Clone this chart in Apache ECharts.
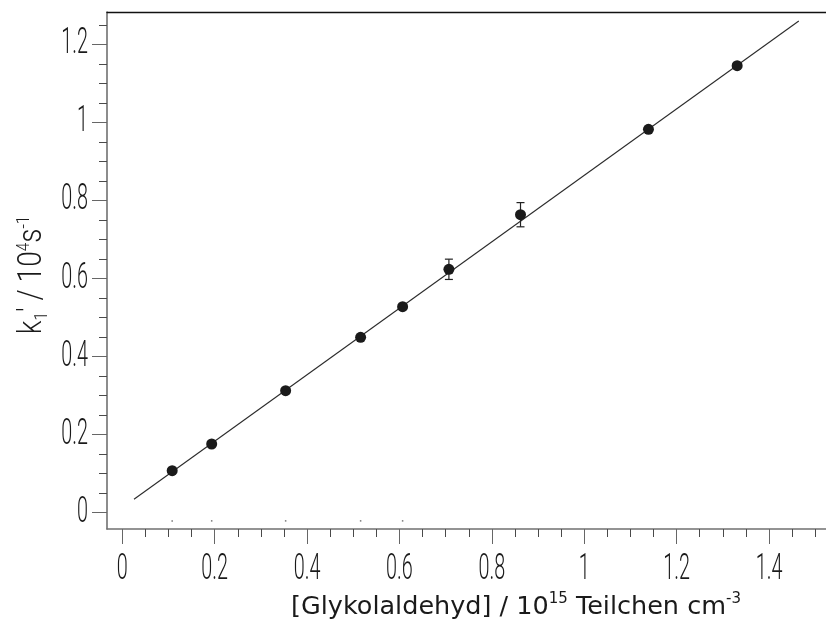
<!DOCTYPE html>
<html>
<head>
<meta charset="utf-8">
<script src="https://cdn.jsdelivr.net/npm/echarts@6/dist/echarts.min.js"></script>
<style>
  html, body { margin: 0; padding: 0; background: #fff; }
  #chart { width: 826px; height: 635px; }
</style>
</head>
<body>
<div id="chart"></div>
<script>
// [Glykolaldehyd] in 10^15 Teilchen cm^-3
const concentration = [0.108, 0.1935, 0.3536, 0.5159, 0.6068, 0.707, 0.862, 1.139, 1.331];
// k1' in 10^4 s^-1
const rateK1 = [0.1076, 0.176, 0.3126, 0.4494, 0.5278, 0.6236, 0.7635, 0.9823, 1.1453];
// one-sigma uncertainty of k1' (0 = no bar)
const rateError = [0, 0, 0, 0, 0, 0.026, 0.031, 0, 0];
// straight-line fit, end points
const fitX = [0.0253, 1.4644];
const fitY = [0.0343, 1.2598];
// tiny marks just below the zero line
const stubX = [0.108, 0.1935, 0.3536, 0.5159, 0.6068];
const stubY = [-0.021, -0.021, -0.021, -0.021, -0.021];

// axis extents and tick labels
const xRange = [-0.0331, 1.5233];
const yRange = [-0.0418, 1.2829];
const xTickValues = [0, 0.2, 0.4, 0.6, 0.8, 1, 1.2, 1.4];
const xTickLabels = ['0', '0.2', '0.4', '0.6', '0.8', '1', '1.2', '1.4'];
const yTickValues = [0, 0.2, 0.4, 0.6, 0.8, 1, 1.2];
const yTickLabels = ['0', '0.2', '0.4', '0.6', '0.8', '1', '1.2'];
const minorStep = 0.05;

function minorValues(lo, hi) {
  const out = [];
  for (let i = Math.ceil(lo / minorStep); i * minorStep <= hi; i++) {
    out.push(Math.round(i * minorStep * 1000) / 1000);
  }
  return out;
}
const xMinor = minorValues(xRange[0], xRange[1]);
const yMinor = minorValues(yRange[0], yRange[1]);

const AXIS_GREY = '#707070';
const INK = '#1a1a1a';
const TICK_FONT = '300 36px Roboto, "Liberation Sans", sans-serif';

const chart = echarts.init(document.getElementById('chart'), null, { renderer: 'canvas' });

function baseX(extra) {
  return Object.assign({
    type: 'value', gridIndex: 0, min: xRange[0], max: xRange[1],
    splitLine: { show: false }, axisLabel: { show: false }
  }, extra);
}
function baseY(extra) {
  return Object.assign({
    type: 'value', gridIndex: 0, min: yRange[0], max: yRange[1],
    splitLine: { show: false }, axisLabel: { show: false }
  }, extra);
}

const points = concentration.map((x, i) => [x, rateK1[i]]);
const errBars = concentration
  .map((x, i) => [x, rateK1[i], rateError[i]])
  .filter(d => d[2] > 0);

const option = {
  animation: false,
  backgroundColor: '#fff',
  grid: { left: 107, right: 0, top: 12, bottom: 106, containLabel: false },
  xAxis: [
    baseX({
      position: 'bottom',
      axisLine: { show: true, onZero: false, lineStyle: { color: AXIS_GREY, width: 1.6 } },
      axisTick: { show: true, inside: false, length: 8, customValues: xMinor,
                  lineStyle: { color: '#4a4a4a', width: 1 } }
    }),
    baseX({
      position: 'bottom',
      axisLine: { show: false, onZero: false },
      axisTick: { show: true, inside: false, length: 15, customValues: xTickValues,
                  lineStyle: { color: '#666', width: 1 } }
    }),
    baseX({
      position: 'top',
      axisLine: { show: true, onZero: false, lineStyle: { color: '#111', width: 1.4 } },
      axisTick: { show: false }
    })
  ],
  yAxis: [
    baseY({
      position: 'left',
      axisLine: { show: true, onZero: false, lineStyle: { color: AXIS_GREY, width: 1.6 } },
      axisTick: { show: true, inside: false, length: 8, customValues: yMinor,
                  lineStyle: { color: '#4a4a4a', width: 1 } }
    }),
    baseY({
      position: 'left',
      axisLine: { show: false, onZero: false },
      axisTick: { show: true, inside: false, length: 15, customValues: yTickValues,
                  lineStyle: { color: '#666', width: 1 } }
    })
  ],
  series: [
    {
      type: 'line', xAxisIndex: 0, yAxisIndex: 0,
      data: fitX.map((x, i) => [x, fitY[i]]),
      symbol: 'none', silent: true, z: 2,
      lineStyle: { color: '#2a2a2a', width: 1.1 }
    },
    {
      type: 'custom', xAxisIndex: 0, yAxisIndex: 0, z: 3,
      data: errBars,
      renderItem: function (params, api) {
        const x = api.value(0), y = api.value(1), e = api.value(2);
        const top = api.coord([x, y + e]);
        const bot = api.coord([x, y - e]);
        const half = 4;
        const st = { stroke: '#222', lineWidth: 1.2 };
        return {
          type: 'group',
          children: [
            { type: 'line', shape: { x1: top[0], y1: top[1], x2: bot[0], y2: bot[1] }, style: st },
            { type: 'line', shape: { x1: top[0] - half, y1: top[1], x2: top[0] + half, y2: top[1] }, style: st },
            { type: 'line', shape: { x1: bot[0] - half, y1: bot[1], x2: bot[0] + half, y2: bot[1] }, style: st }
          ]
        };
      }
    },
    {
      type: 'scatter', xAxisIndex: 0, yAxisIndex: 0, z: 4,
      data: points, symbol: 'circle', symbolSize: 11,
      itemStyle: { color: INK, opacity: 1 }
    },
    {
      type: 'scatter', xAxisIndex: 0, yAxisIndex: 0, z: 1,
      data: stubX.map((x, i) => [x, stubY[i]]), symbol: 'rect', symbolSize: [1.5, 1.5],
      itemStyle: { color: '#777', opacity: 1 }
    }
  ]
};

chart.setOption(option);

// Condensed tick labels placed on the axis scales
const xAxisPixelY = chart.convertToPixel({ yAxisIndex: 0 }, yRange[0]);
const yAxisPixelX = chart.convertToPixel({ xAxisIndex: 0 }, xRange[0]);
const labelEls = [];
xTickValues.forEach((v, i) => {
  labelEls.push({
    type: 'text',
    x: chart.convertToPixel({ xAxisIndex: 0 }, v),
    y: xAxisPixelY + 41,
    scaleX: 0.55,
    silent: true,
    style: {
      text: xTickLabels[i], font: TICK_FONT, fill: INK,
      align: 'center', verticalAlign: 'middle',
      textAlign: 'center', textVerticalAlign: 'middle'
    }
  });
});
yTickValues.forEach((v, i) => {
  labelEls.push({
    type: 'text',
    x: yAxisPixelX - 19,
    y: chart.convertToPixel({ yAxisIndex: 0 }, v),
    scaleX: 0.55,
    silent: true,
    style: {
      text: yTickLabels[i], font: TICK_FONT, fill: INK,
      align: 'right', verticalAlign: 'middle',
      textAlign: 'right', textVerticalAlign: 'middle'
    }
  });
});

// Axis titles
labelEls.push({
  type: 'text',
  x: 33, y: 275,
  rotation: Math.PI / 2,
  scaleX: 0.85,
  silent: true,
  style: {
    text: '{m|k}{sub|1}{m|′ / 10}{sup|4}{m|s}{sup|-1}',
    align: 'center', verticalAlign: 'middle',
    textAlign: 'center', textVerticalAlign: 'middle',
    fill: INK,
    rich: {
      m: { fontFamily: 'Roboto', fontWeight: 300, fontSize: 33, lineHeight: 36, verticalAlign: 'middle', fill: INK, color: INK },
      sup: { fontFamily: 'Roboto', fontWeight: 300, fontSize: 18, lineHeight: 18, verticalAlign: 'top', fill: INK, color: INK },
      sub: { fontFamily: 'Roboto', fontWeight: 300, fontSize: 18, lineHeight: 15, verticalAlign: 'bottom', fill: INK, color: INK }
    }
  }
});
labelEls.push({
  type: 'text',
  x: 516, y: 607,
  silent: true,
  style: {
    text: '{m|[Glykolaldehyd] / 10}{sup|15}{m| Teilchen cm}{sup|-3}',
    align: 'center', verticalAlign: 'middle',
    textAlign: 'center', textVerticalAlign: 'middle',
    fill: INK,
    rich: {
      m: { fontFamily: '"DejaVu Sans"', fontSize: 25.5, lineHeight: 30, verticalAlign: 'middle', fill: INK, color: INK },
      sup: { fontFamily: '"DejaVu Sans"', fontSize: 15, lineHeight: 16, verticalAlign: 'top', fill: INK, color: INK }
    }
  }
});

chart.setOption({ graphic: { elements: labelEls } });
</script>
</body>
</html>
